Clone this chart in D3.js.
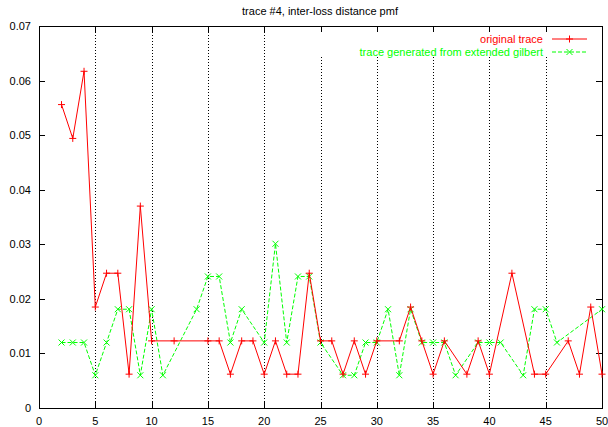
<!DOCTYPE html>
<html>
<head>
<meta charset="utf-8">
<script src="https://cdn.jsdelivr.net/npm/d3@7"></script>
<style>
  body { margin: 0; background: #fff; }
  text { font-family: "Liberation Sans", Arial, Helvetica, sans-serif; }
</style>
</head>
<body>
<svg id="chart"></svg>
<script>
var width = 608,
    height = 427;

var title = 'trace #4, inter-loss distance pmf';
var seriesNames = ['original trace', 'trace generated from extended gilbert'];

var xTicks = [0, 5, 10, 15, 20, 25, 30, 35, 40, 45, 50];
var yTicks = [0, 0.01, 0.02, 0.03, 0.04, 0.05, 0.06, 0.07];
var gridX = [5, 10, 15, 20, 25, 30, 35, 40, 45];

// original trace
var origX = [2, 3, 4, 5, 6, 7, 8, 9, 10, 12, 15, 16, 17, 18, 19, 20, 21, 22, 23, 24, 25, 26, 27, 28, 29, 30,
             32, 33, 34, 35, 36, 38, 39, 40, 42, 44, 45, 47, 48, 49, 50];
var origY = [0.0556, 0.0494, 0.0617, 0.0185, 0.0247, 0.0247, 0.0062, 0.0370, 0.0123, 0.0123, 0.0123, 0.0123,
             0.0062, 0.0123, 0.0123, 0.0062, 0.0123, 0.0062, 0.0062, 0.0247, 0.0123, 0.0123, 0.0062, 0.0123,
             0.0062, 0.0123, 0.0123, 0.0185, 0.0123, 0.0062, 0.0123, 0.0062, 0.0123, 0.0062, 0.0247, 0.0062,
             0.0062, 0.0123, 0.0062, 0.0185, 0.0062];

// trace generated from extended gilbert
var genX = [2, 3, 4, 5, 6, 7, 8, 9, 10, 11, 14, 15, 16, 17, 18, 20, 21, 22, 23, 24, 25, 27, 28, 29, 30,
            31, 32, 33, 34, 35, 36, 37, 39, 40, 41, 43, 44, 45, 46, 50];
var genY = [0.0120, 0.0120, 0.0120, 0.0060, 0.0120, 0.0181, 0.0181, 0.0060, 0.0181, 0.0060, 0.0181, 0.0241,
            0.0241, 0.0120, 0.0181, 0.0120, 0.0301, 0.0120, 0.0241, 0.0241, 0.0120, 0.0060, 0.0060, 0.0120,
            0.0120, 0.0181, 0.0060, 0.0181, 0.0120, 0.0120, 0.0120, 0.0060, 0.0120, 0.0120, 0.0120, 0.0060,
            0.0181, 0.0181, 0.0120, 0.0181];

var pLeft = 39, pRight = 602, pTop = 26, pBottom = 408;

var svg = d3.select('#chart')
    .attr('width', width)
    .attr('height', height);

var x = d3.scaleLinear().domain([0, 50]).range([pLeft, pRight]);
var y = d3.scaleLinear().domain([0, 0.07]).range([pBottom, pTop]);

// legend box area (grid lines stop under it)
var legendLeft = 312, legendBottom = 57;

// grid
svg.append('g').selectAll('line')
  .data(gridX)
  .enter().append('line')
    .attr('x1', function(d) { return Math.round(x(d)) + 0.5; })
    .attr('x2', function(d) { return Math.round(x(d)) + 0.5; })
    .attr('y1', function(d) { return x(d) > legendLeft ? legendBottom : pTop; })
    .attr('y2', pBottom)
    .attr('stroke', '#000')
    .attr('stroke-width', 1)
    .attr('stroke-dasharray', '1,2');

// ticks inward on all four sides
var tickLen = 6;
var tk = svg.append('g').attr('stroke', '#000').attr('stroke-width', 1);
xTicks.slice(1, -1).forEach(function(t) {
  var px = Math.round(x(t)) + 0.5;
  tk.append('line').attr('x1', px).attr('x2', px).attr('y1', pBottom).attr('y2', pBottom - tickLen);
  tk.append('line').attr('x1', px).attr('x2', px).attr('y1', pTop).attr('y2', pTop + tickLen);
});
yTicks.slice(1, -1).forEach(function(t) {
  var py = Math.round(y(t)) + 0.5;
  tk.append('line').attr('x1', pLeft).attr('x2', pLeft + tickLen).attr('y1', py).attr('y2', py);
  tk.append('line').attr('x1', pRight).attr('x2', pRight - tickLen).attr('y1', py).attr('y2', py);
});

// border
svg.append('rect')
  .attr('x', pLeft + 0.5)
  .attr('y', pTop + 0.5)
  .attr('width', pRight - pLeft)
  .attr('height', pBottom - pTop)
  .attr('fill', 'none')
  .attr('stroke', '#000')
  .attr('stroke-width', 1);

// tick labels
svg.append('g').selectAll('text')
  .data(xTicks)
  .enter().append('text')
    .attr('x', function(d) { return x(d); })
    .attr('y', 425)
    .attr('font-size', 11)
    .attr('fill', '#000')
    .style('text-anchor', 'middle')
    .text(function(d) { return d; });

svg.append('g').selectAll('text')
  .data(yTicks)
  .enter().append('text')
    .attr('x', 31)
    .attr('y', function(d) { return y(d) + 4; })
    .attr('font-size', 11)
    .attr('fill', '#000')
    .style('text-anchor', 'end')
    .text(function(d) { return d === 0 ? '0' : d3.format('.2f')(d); });

// title
svg.append('text')
  .text(title)
  .attr('x', 320)
  .attr('y', 15)
  .attr('font-size', 11)
  .attr('fill', '#000')
  .style('text-anchor', 'middle');

var line = d3.line()
  .x(function(d) { return x(d[0]); })
  .y(function(d) { return y(d[1]); });

var origData = d3.zip(origX, origY);
var genData = d3.zip(genX, genY);

function plus(g, cx, cy, col) {
  g.append('path')
    .attr('d', 'M' + (cx - 3.5) + ',' + cy + 'H' + (cx + 3.5) + 'M' + cx + ',' + (cy - 3.5) + 'V' + (cy + 3.5))
    .attr('stroke', col).attr('stroke-width', 1).attr('fill', 'none');
}
function cross(g, cx, cy, col) {
  g.append('path')
    .attr('d', 'M' + (cx - 3) + ',' + (cy - 3) + 'L' + (cx + 3) + ',' + (cy + 3) +
               'M' + (cx - 3) + ',' + (cy + 3) + 'L' + (cx + 3) + ',' + (cy - 3))
    .attr('stroke', col).attr('stroke-width', 1).attr('fill', 'none');
}

// generated trace (green, dashed, x)
svg.append('path')
  .datum(genData)
  .attr('d', line)
  .attr('fill', 'none')
  .attr('stroke', '#00ff00')
  .attr('stroke-width', 1)
  .attr('stroke-dasharray', '4,2');
var gm = svg.append('g');
genData.forEach(function(d) { cross(gm, x(d[0]), y(d[1]), '#00ff00'); });

// original trace (red, solid, +)
svg.append('path')
  .datum(origData)
  .attr('d', line)
  .attr('fill', 'none')
  .attr('stroke', '#ff0000')
  .attr('stroke-width', 1);
var om = svg.append('g');
origData.forEach(function(d) { plus(om, x(d[0]), y(d[1]), '#ff0000'); });

// legend
var legend = svg.append('g');
var keyY = [39, 52];
var colors = ['#ff0000', '#00ff00'];
seriesNames.forEach(function(name, i) {
  legend.append('text')
    .text(name)
    .attr('x', 543)
    .attr('y', keyY[i] + 4)
    .attr('font-size', 11)
    .attr('fill', colors[i])
    .style('text-anchor', 'end');
  legend.append('line')
    .attr('x1', 552).attr('x2', 587)
    .attr('y1', keyY[i]).attr('y2', keyY[i])
    .attr('stroke', colors[i])
    .attr('stroke-width', 1)
    .attr('stroke-dasharray', i === 1 ? '4,2' : null);
  if (i === 0) plus(legend, 569.5, keyY[i], colors[i]);
  else cross(legend, 569.5, keyY[i], colors[i]);
});
</script>
</body>
</html>
